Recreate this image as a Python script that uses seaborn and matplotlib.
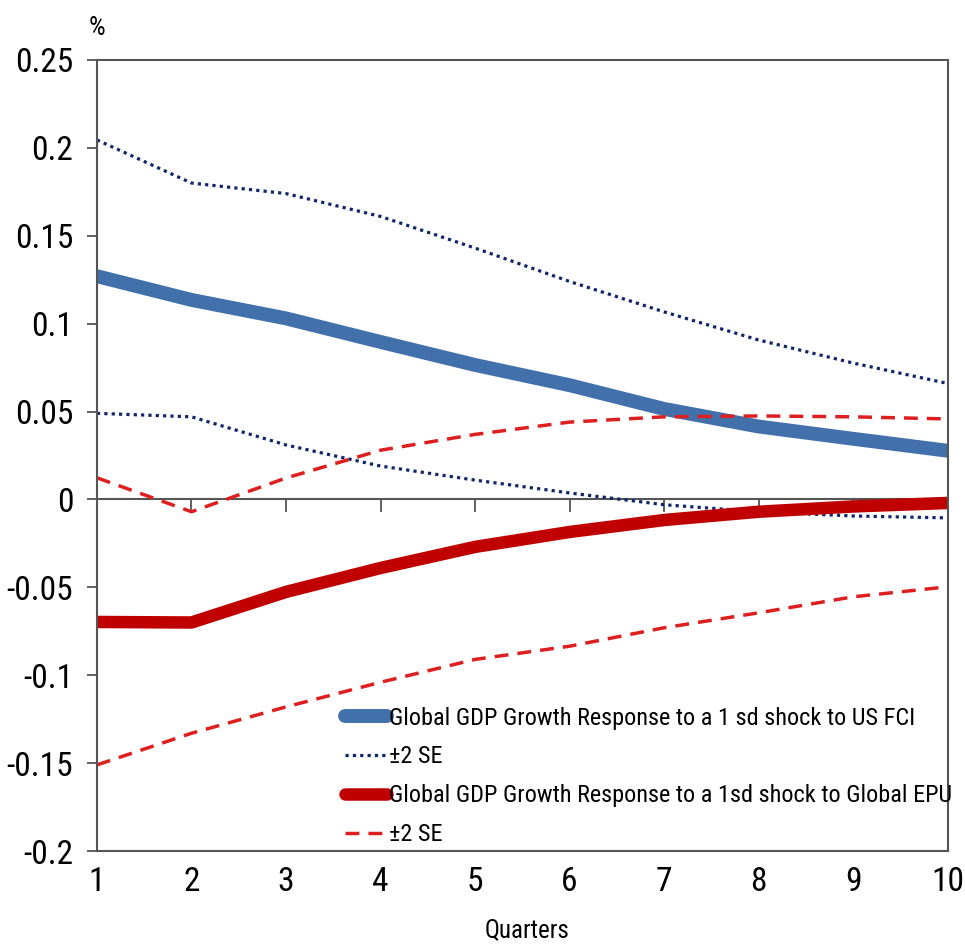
import numpy as np
import pandas as pd
import matplotlib
matplotlib.use('Agg')
import matplotlib.pyplot as plt
import seaborn as sns

# data
quarters = [1, 2, 3, 4, 5, 6, 7, 8, 9, 10]
fci_resp = [0.127, 0.1135, 0.103, 0.0896, 0.0765, 0.065, 0.0515, 0.0415, 0.0345, 0.0277]
fci_upper = [0.2045, 0.180, 0.174, 0.161, 0.143, 0.124, 0.1067, 0.0907, 0.0776, 0.066]
fci_lower = [0.049, 0.047, 0.031, 0.019, 0.011, 0.0037, -0.003, -0.007, -0.0094, -0.0105]
epu_resp = [-0.0697, -0.070, -0.0526, -0.039, -0.027, -0.0185, -0.0117, -0.007, -0.004, -0.002]
epu_upper = [0.0123, -0.007, 0.0122, 0.028, 0.037, 0.044, 0.047, 0.0475, 0.047, 0.0458]
epu_lower = [-0.151, -0.133, -0.118, -0.104, -0.091, -0.0835, -0.073, -0.0645, -0.0554, -0.0497]

yticks = [0.25, 0.2, 0.15, 0.1, 0.05, 0, -0.05, -0.1, -0.15, -0.2]
ytick_labels = ['0.25', '0.2', '0.15', '0.1', '0.05', '0', '-0.05', '-0.1', '-0.15', '-0.2']

fci_label = 'Global GDP Growth Response to a 1 sd shock to US FCI'
epu_label = 'Global GDP Growth Response to a 1sd shock to Global EPU'
se_label = '\u00b12 SE'

sns.set_style('white')
plt.rcParams['font.family'] = ['Roboto Condensed', 'Liberation Sans']
plt.rcParams['axes.unicode_minus'] = False
plt.rcParams['text.color'] = 'black'
plt.rcParams['xtick.labelcolor'] = 'black'
plt.rcParams['ytick.labelcolor'] = 'black'

fig = plt.figure(figsize=(9.65, 9.46), dpi=100)
ax = fig.add_axes([0.1005, 0.1004, 0.8815, 0.8362])

blue = '#4170aa'
navy = '#0f2766'
red = '#c00000'
red_dash = '#de1f1f'

sns.lineplot(x=quarters, y=fci_resp, ax=ax, color=blue, linewidth=10, label=fci_label)
sns.lineplot(x=quarters, y=fci_upper, ax=ax, color=navy, linewidth=2.3,
             linestyle=(0, (1, 1.3)), label=se_label)
sns.lineplot(x=quarters, y=fci_lower, ax=ax, color=navy, linewidth=2.3,
             linestyle=(0, (1, 1.3)), label='_nolegend_')
sns.lineplot(x=quarters, y=epu_resp, ax=ax, color=red, linewidth=9, label=epu_label)
sns.lineplot(x=quarters, y=epu_upper, ax=ax, color=red_dash, linewidth=2.5,
             linestyle=(0, (4, 2.6)), label=se_label)
sns.lineplot(x=quarters, y=epu_lower, ax=ax, color=red_dash, linewidth=2.5,
             linestyle=(0, (4, 2.6)), label='_nolegend_')

ax.set_xlim(1, 10)
ax.set_ylim(-0.2, 0.25)
ax.set_yticks(yticks)
ax.set_yticklabels(ytick_labels)
ax.set_xticks(quarters)
ax.set_xticklabels([str(q) for q in quarters])

for s in ax.spines.values():
    s.set_color('#555555')
    s.set_linewidth(1.5)
    s.set_visible(True)

ax.tick_params(axis='y', direction='out', length=7, width=1.3, color='#555555',
               labelsize=24, pad=10, left=True)
ax.tick_params(axis='x', length=0, labelsize=24, pad=11)

# zero line with downward ticks
zero_ax = ax.secondary_xaxis(0.2 / 0.45)
zero_ax.set_xticks(quarters)
zero_ax.tick_params(direction='out', length=9, width=1.3, color='#555555', labelbottom=False)
zero_ax.spines['bottom'].set_color('#555555')
zero_ax.spines['bottom'].set_linewidth(1.5)

fig.text(527 / 965, 1 - 930 / 946, 'Quarters', fontsize=18, ha='center', va='center')
ax.text(0.0, 1.04, '%', transform=ax.transAxes, fontsize=19, ha='center', va='center')

ax.legend(loc='lower left', bbox_to_anchor=(0.28, -0.006), frameon=False, fontsize=17.5,
          handlelength=1.75, handletextpad=0.05, labelspacing=0.65, borderaxespad=0)

fig.savefig('out.png', dpi=100)
